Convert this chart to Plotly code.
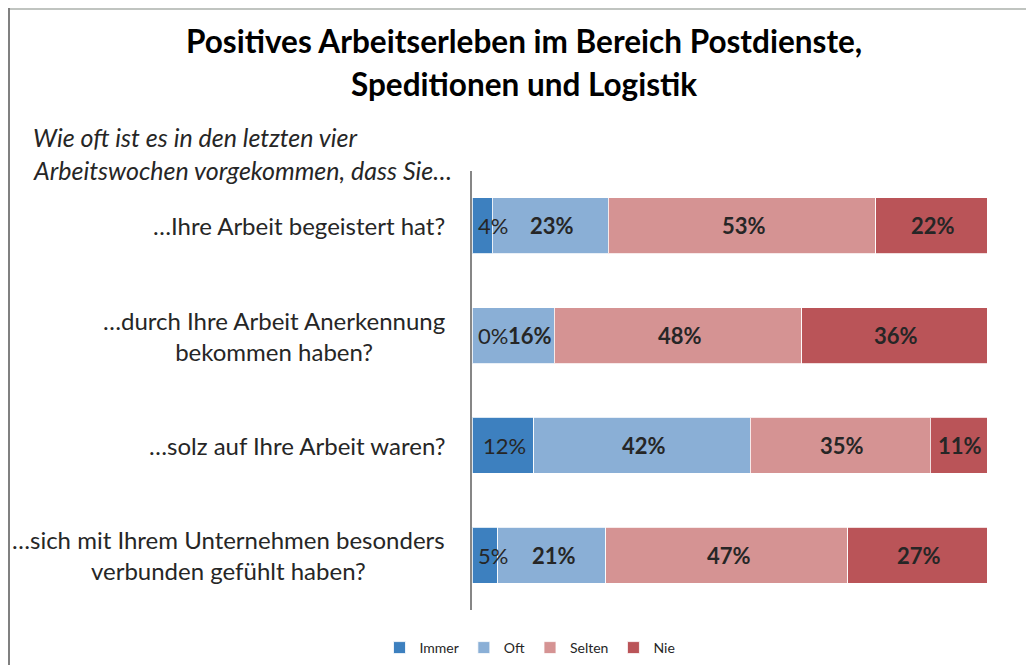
import numpy as np
import plotly.graph_objects as go

# ---------------- data ----------------
categories = [
    "…Ihre Arbeit begeistert hat?",
    "…durch Ihre Arbeit Anerkennung<br>bekommen haben?",
    "…solz auf Ihre Arbeit waren?",
    "…sich mit Ihrem Unternehmen besonders<br>verbunden gefühlt haben?",
]
series_names = ["Immer", "Oft", "Selten", "Nie"]
immer = [4, 0, 12, 5]
oft = [23, 16, 42, 21]
selten = [53, 48, 35, 47]
nie = [22, 36, 11, 27]

title_lines = ["Positives Arbeitserleben im Bereich Postdienste,", "Speditionen und Logistik"]
subtitle_lines = ["Wie oft ist es in den letzten vier", "Arbeitswochen vorgekommen, dass Sie…"]

colors = ["#3D80BF", "#8AAFD6", "#D59393", "#BA5458"]
label_bold = [False, True, True, True]

# ---------------- layout geometry ----------------
OFF = 8                      # page body margin
W, H = 1034 - OFF, 665 - OFF
ML, MR, MT, MB = 464, 47, 163, 55
PW, PH = W - ML - MR, H - MT - MB

FONT = "Lato"
TXT = "#262626"
LBL_SIZE = 22


def px_x(sx):
    return (sx - OFF - ML) / PW


def px_y(sy):
    return (H - MB - (sy - OFF)) / PH


values = np.array([immer, oft, selten, nie], dtype=float)   # series x rows
norm = values / values.sum(axis=0) * 100.0
cum = np.cumsum(norm, axis=0)
start = cum - norm
mid = start + norm / 2

fig = go.Figure()
for i, name in enumerate(series_names):
    fig.add_trace(go.Bar(
        y=categories, x=values[i], name=name, orientation="h",
        marker=dict(color=colors[i], line=dict(color="rgba(255,255,255,0.8)", width=1)),
        hoverinfo="skip",
    ))

annotations = []


def est_width(txt, bold):
    w = 0
    for ch in txt:
        w += 0.80 if ch == "%" else 0.58
    return w * LBL_SIZE * (1.03 if bold else 1.0)


# data labels (kept inside the plot area, pushed right if they collide)
for j, cat in enumerate(categories):
    prev_right = 4.0
    for i in range(len(series_names)):
        txt = f"{values[i][j]:.0f}%"
        bold = label_bold[i]
        t = f"<b>{txt}</b>" if bold else txt
        w = est_width(txt, bold)
        center_px = mid[i][j] / 100 * PW
        left_px = center_px - w / 2
        if left_px < prev_right:
            left_px = prev_right
        prev_right = left_px + w
        annotations.append(dict(x=0, y=cat, xref="x", yref="y", text=t, showarrow=False,
                                xanchor="left", xshift=left_px,
                                font=dict(family=FONT, size=LBL_SIZE, color=TXT)))

# category labels (centered multi-line, right edge near axis)
for cat in categories:
    annotations.append(dict(x=0, y=cat, xref="paper", yref="y", text=cat, showarrow=False,
                            xanchor="right", xshift=-25, align="center",
                            font=dict(family=FONT, size=24, color=TXT)))

# title
for k, line in enumerate(title_lines):
    annotations.append(dict(x=px_x(524), y=px_y(41 + 43 * k), xref="paper", yref="paper",
                            text=f"<b>{line}</b>", showarrow=False, xanchor="center", yanchor="middle",
                            font=dict(family=FONT, size=31.5, color="#000000")))

# subtitle
for k, line in enumerate(subtitle_lines):
    annotations.append(dict(x=px_x(31), y=px_y(137 + 33 * k), xref="paper", yref="paper",
                            text=f"<i>{line}</i>", showarrow=False, xanchor="left", yanchor="middle",
                            font=dict(family=FONT, size=25, color=TXT)))

shapes = [
    dict(type="line", xref="paper", yref="paper", x0=px_x(OFF), x1=px_x(W + OFF + 5),
         y0=px_y(OFF + 1), y1=px_y(OFF + 1), line=dict(color="#C0C4C0", width=2)),
    dict(type="line", xref="paper", yref="paper", x0=px_x(OFF + 1), x1=px_x(OFF + 1),
         y0=px_y(OFF), y1=px_y(H + OFF + 5), line=dict(color="#808080", width=2)),
]

fig.update_layout(
    width=W, height=H, autosize=False,
    margin=dict(l=ML, r=MR, t=MT, b=MB),
    paper_bgcolor="white", plot_bgcolor="white",
    barmode="stack", barnorm="percent", bargap=0.49,
    xaxis=dict(range=[0, 100], showticklabels=False, showgrid=False, zeroline=False, showline=False,
               fixedrange=True),
    yaxis=dict(autorange="reversed", showticklabels=False, showgrid=False, zeroline=False,
               showline=True, linecolor="#868686", linewidth=1.5, ticks=""),
    legend=dict(orientation="h", xref="container", x=(530 - OFF) / W, xanchor="center",
                yref="container", y=1 - (648 - OFF) / H, yanchor="middle",
                font=dict(family=FONT, size=14, color=TXT), traceorder="normal",
                itemclick=False, itemdoubleclick=False),
    annotations=annotations,
    shapes=shapes,
    showlegend=True,
)

fig.write_html("out.html")
